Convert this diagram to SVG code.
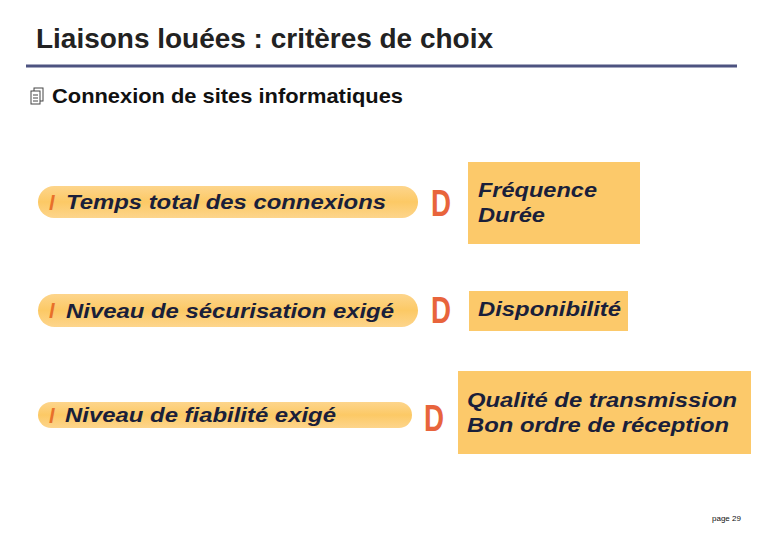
<svg xmlns="http://www.w3.org/2000/svg" width="780" height="540" viewBox="0 0 780 540">
<defs>
<linearGradient id="pill" x1="0" y1="0" x2="0" y2="1">
<stop offset="0" stop-color="#fdd58c"/>
<stop offset="0.5" stop-color="#fcc965"/>
<stop offset="1" stop-color="#fdd58c"/>
</linearGradient>
</defs>
<style>
.t{font-family:"Liberation Sans",Arial,sans-serif;}
.title{font-size:28px;fill:#222;font-weight:bold;}
.sub{font-size:21px;fill:#111;font-weight:bold;}
.pt{font-size:20px;font-weight:bold;font-style:italic;fill:#1a1f3a;}
.bul{font-size:20px;font-weight:bold;font-style:italic;fill:#e8702a;}
.arr{font-size:36px;font-weight:bold;fill:#e8643c;}
.box{fill:#fcc96a;}
.pill{fill:url(#pill);}
</style>
<rect width="780" height="540" fill="#fff"/>
<text class="t title" x="36" y="48" textLength="457" lengthAdjust="spacingAndGlyphs">Liaisons louées : critères de choix</text>
<line x1="26" y1="66" x2="737" y2="66" stroke="#4d5380" stroke-width="3"/>
<g id="icon">
<rect x="34" y="88" width="9" height="13" fill="#fff" stroke="#444" stroke-width="1"/>
<rect x="31" y="91" width="9" height="13" fill="#fff" stroke="#444" stroke-width="1"/>
<line x1="33" y1="95" x2="38" y2="95" stroke="#444"/>
<line x1="33" y1="98" x2="38" y2="98" stroke="#444"/>
<line x1="33" y1="101" x2="38" y2="101" stroke="#444"/>
</g>
<text class="t sub" x="52" y="103" textLength="351" lengthAdjust="spacingAndGlyphs">Connexion de sites informatiques</text>

<g id="crit1">
<rect class="pill" x="38" y="186" width="380" height="32" rx="16"/>
<text class="t bul" x="49" y="210">l</text>
<text class="t pt" x="66" y="209" textLength="320" lengthAdjust="spacingAndGlyphs">Temps total des connexions</text>
</g>
<g id="res1">
<rect class="box" x="468" y="162" width="172" height="82"/>
<text class="t pt" x="478" y="197" textLength="119" lengthAdjust="spacingAndGlyphs">Fréquence</text>
<text class="t pt" x="478" y="222" textLength="67" lengthAdjust="spacingAndGlyphs">Durée</text>
</g>

<g id="crit2">
<rect class="pill" x="38" y="294" width="380" height="33" rx="16.5"/>
<text class="t bul" x="49" y="318">l</text>
<text class="t pt" x="66" y="318" textLength="328" lengthAdjust="spacingAndGlyphs">Niveau de sécurisation exigé</text>
</g>
<g id="res2">
<rect class="box" x="469" y="291" width="159" height="40"/>
<text class="t pt" x="478" y="316" textLength="143" lengthAdjust="spacingAndGlyphs">Disponibilité</text>
</g>

<g id="crit3">
<rect class="pill" x="38" y="402" width="374" height="26" rx="13"/>
<text class="t bul" x="49" y="423">l</text>
<text class="t pt" x="65" y="422" textLength="271" lengthAdjust="spacingAndGlyphs">Niveau de fiabilité exigé</text>
</g>
<g id="res3">
<rect class="box" x="458" y="371" width="293" height="83"/>
<text class="t pt" x="467" y="407" textLength="270" lengthAdjust="spacingAndGlyphs">Qualité de transmission</text>
<text class="t pt" x="467" y="432" textLength="262" lengthAdjust="spacingAndGlyphs">Bon ordre de réception</text>
</g>

<g id="connectors">
<text class="t arr" x="431" y="216" textLength="20" lengthAdjust="spacingAndGlyphs">D</text>
<text class="t arr" x="431" y="323" textLength="20" lengthAdjust="spacingAndGlyphs">D</text>
<text class="t arr" x="424" y="431" textLength="20" lengthAdjust="spacingAndGlyphs">D</text>
</g>

<text class="t" x="712" y="521" font-size="8" fill="#111">page 29</text>
</svg>
